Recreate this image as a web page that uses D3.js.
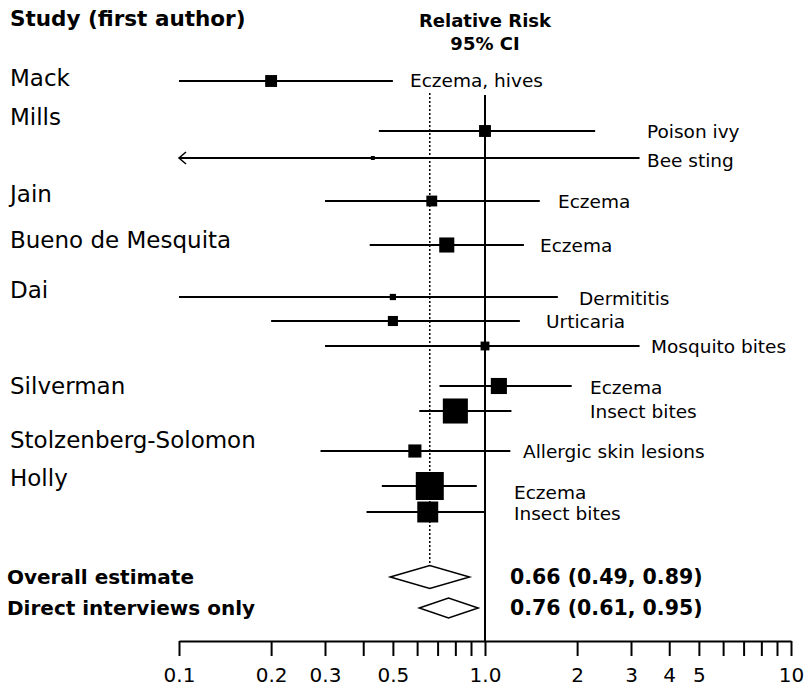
<!DOCTYPE html>
<html>
<head>
<meta charset="utf-8">
<script src="https://cdn.jsdelivr.net/npm/d3@7"></script>
<style>
  body { margin: 0; background: #fff; }
  svg { display: block; font-family: "DejaVu Sans", Verdana, sans-serif; }
</style>
</head>
<body>
<svg id="forest"></svg>
<script>
// data
var studies = ["Mack", "Mills", "Jain", "Bueno de Mesquita", "Dai", "Silverman", "Stolzenberg-Solomon", "Holly"];
var outcomes = ["Eczema, hives", "Poison ivy", "Bee sting", "Eczema", "Eczema", "Dermititis", "Urticaria",
                "Mosquito bites", "Eczema", "Insect bites", "Allergic skin lesions", "Eczema", "Insect bites"];
var rr    = [0.20, 1.00, 0.43, 0.67, 0.75, 0.50, 0.50, 1.00, 1.11, 0.80, 0.59, 0.66, 0.65];
var lower = [0.10, 0.45, 0.08, 0.30, 0.42, 0.10, 0.20, 0.30, 0.71, 0.61, 0.29, 0.46, 0.41];
var upper = [0.50, 2.29, 3.20, 1.51, 1.34, 1.73, 1.30, 3.20, 1.92, 1.22, 1.21, 0.94, 1.00];
var weight = [18, 18, 2, 15, 29, 5, 13, 10, 33, 80, 22, 100, 56];

var pooledLabels = ["Overall estimate", "Direct interviews only"];
var pooledRR    = [0.66, 0.76];
var pooledLower = [0.49, 0.61];
var pooledUpper = [0.89, 0.95];

var tickValues = [0.1, 0.2, 0.3, 0.4, 0.5, 0.6, 0.7, 0.8, 0.9, 1, 2, 3, 4, 5, 6, 7, 8, 9, 10];
var tickLabels = {0.1: "0.1", 0.2: "0.2", 0.3: "0.3", 0.5: "0.5", 1: "1.0", 2: "2", 3: "3", 4: "4", 5: "5", 10: "10"};

// layout
var width = 808, height = 694;
var studyY = [78, 117, 194, 240, 290, 386, 440, 478];
var rowY = [81, 131, 158, 201, 245, 297, 321, 346, 386, 411, 451, 486, 512];
var noteX = [410, 647, 647, 558, 540, 579, 546, 651, 590, 590, 523, 514, 514];
var noteY = [80, 131, 160, 201, 245, 298, 321, 346, 387, 411, 451, 492, 513];
var pooledY = [577, 608];
var diamondH = [11.5, 10];
var axisY = 641;

var svg = d3.select("#forest")
    .attr("width", width)
    .attr("height", height);

var x = d3.scaleLog()
    .domain([0.1, 10])
    .range([179, 791]);

var size = d3.scaleSqrt()
    .domain([0, 100])
    .range([0, 28]);

// headers
svg.append("text")
    .attr("x", 10)
    .attr("y", 26)
    .style("font-weight", "bold")
    .style("font-size", "21.5px")
    .text("Study (first author)");

svg.append("text")
    .attr("x", x(1))
    .attr("y", 27)
    .attr("text-anchor", "middle")
    .style("font-weight", "bold")
    .style("font-size", "18px")
    .text("Relative Risk");

svg.append("text")
    .attr("x", x(1))
    .attr("y", 50)
    .attr("text-anchor", "middle")
    .style("font-weight", "bold")
    .style("font-size", "18px")
    .text("95% CI");

// reference lines
svg.append("line")
    .attr("x1", x(1)).attr("x2", x(1))
    .attr("y1", 95).attr("y2", axisY)
    .attr("stroke", "black")
    .attr("stroke-width", 2);

svg.append("line")
    .attr("x1", x(pooledRR[0])).attr("x2", x(pooledRR[0]))
    .attr("y1", 93).attr("y2", pooledY[0] - diamondH[0])
    .attr("stroke", "black")
    .attr("stroke-width", 1.5)
    .attr("stroke-dasharray", "2,2");

// study names
svg.selectAll(".study")
    .data(studies)
    .enter().append("text")
    .attr("class", "study")
    .attr("x", 10)
    .attr("y", (d, i) => studyY[i])
    .attr("dy", "0.36em")
    .style("font-size", "23px")
    .text(d => d);

// CI lines
var rows = rr.map((d, i) => ({rr: d, lo: lower[i], hi: upper[i], w: weight[i], note: outcomes[i], y: rowY[i], nx: noteX[i], ny: noteY[i]}));

svg.selectAll(".ci")
    .data(rows)
    .enter().append("line")
    .attr("class", "ci")
    .attr("x1", d => x(Math.max(d.lo, 0.1)))
    .attr("x2", d => x(d.hi))
    .attr("y1", d => d.y)
    .attr("y2", d => d.y)
    .attr("stroke", "black")
    .attr("stroke-width", 2);

// arrow where the interval runs off the axis
svg.selectAll(".arrow")
    .data(rows.filter(d => d.lo < 0.1))
    .enter().append("path")
    .attr("class", "arrow")
    .attr("d", d => "M" + (x(0.1) + 7) + "," + (d.y - 6) + "L" + x(0.1) + "," + d.y + "L" + (x(0.1) + 7) + "," + (d.y + 6))
    .attr("fill", "none")
    .attr("stroke", "black")
    .attr("stroke-width", 1.5);

// boxes
svg.selectAll(".box")
    .data(rows)
    .enter().append("rect")
    .attr("class", "box")
    .attr("x", d => x(d.rr) - size(d.w) / 2)
    .attr("y", d => d.y - size(d.w) / 2)
    .attr("width", d => size(d.w))
    .attr("height", d => size(d.w))
    .attr("fill", "black");

// outcome notes
svg.selectAll(".note")
    .data(rows)
    .enter().append("text")
    .attr("class", "note")
    .attr("x", d => d.nx)
    .attr("y", d => d.ny)
    .attr("dy", "0.36em")
    .style("font-size", "18.5px")
    .text(d => d.note);

// pooled estimates
var pooled = pooledRR.map((d, i) => ({rr: d, lo: pooledLower[i], hi: pooledUpper[i], label: pooledLabels[i], y: pooledY[i], h: diamondH[i]}));

svg.selectAll(".diamond")
    .data(pooled)
    .enter().append("path")
    .attr("class", "diamond")
    .attr("d", d => "M" + x(d.lo) + "," + d.y + "L" + x(d.rr) + "," + (d.y - d.h) +
        "L" + x(d.hi) + "," + d.y + "L" + x(d.rr) + "," + (d.y + d.h) + "Z")
    .attr("fill", "white")
    .attr("stroke", "black")
    .attr("stroke-width", 1.5);

svg.selectAll(".plabel")
    .data(pooled)
    .enter().append("text")
    .attr("class", "plabel")
    .attr("x", 7)
    .attr("y", d => d.y)
    .attr("dy", "0.36em")
    .style("font-weight", "bold")
    .style("font-size", "20px")
    .text(d => d.label);

svg.selectAll(".pvalue")
    .data(pooled)
    .enter().append("text")
    .attr("class", "pvalue")
    .attr("x", 510)
    .attr("y", d => d.y)
    .attr("dy", "0.36em")
    .style("font-weight", "bold")
    .style("font-size", "20.5px")
    .text(d => d.rr.toFixed(2) + " (" + d.lo.toFixed(2) + ", " + d.hi.toFixed(2) + ")");

// axis
var xAxis = d3.axisBottom(x)
    .tickValues(tickValues)
    .tickFormat(d => tickLabels[d] || "")
    .tickSize(15)
    .tickSizeOuter(0)
    .tickPadding(12);

var axisG = svg.append("g")
    .attr("transform", "translate(0," + axisY + ")")
    .call(xAxis);

axisG.selectAll("path, line")
    .attr("stroke", "black")
    .attr("stroke-width", 2);
axisG.selectAll("text")
    .style("font-family", "'DejaVu Sans', Verdana, sans-serif")
    .style("font-size", "20px")
    .attr("fill", "black");
</script>
</body>
</html>
